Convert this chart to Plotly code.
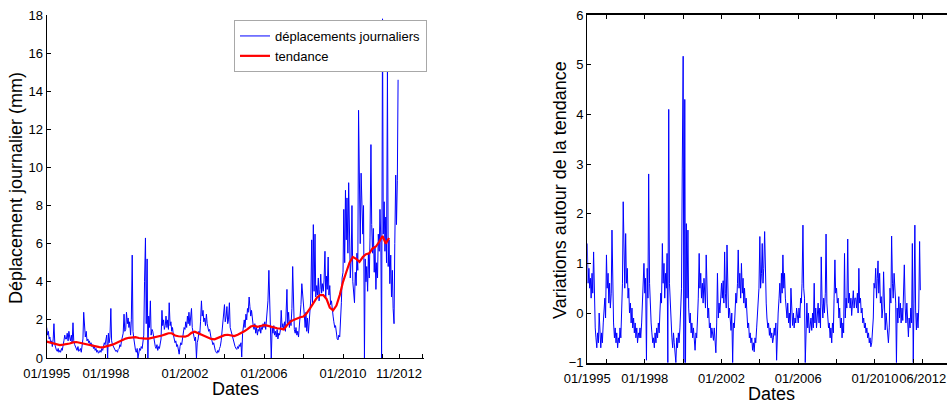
import pandas as pd
import plotly.graph_objects as go

# ---- daily displacement (mm), semi-monthly samples (1st & 15th) ----
d1995 = [1.6, 1.2, 1.4, 1.0, 1.1, 0.8, 0.9, 0.6, 1.0, 1.8, 0.7, 0.5, 0.4, 0.35, 0.5, 0.3, 0.4, 0.3, 0.5, 0.4, 0.6, 0.9, 1.2, 1.0]
d1996 = [1.0, 1.3, 0.9, 1.4, 1.1, 0.9, 1.2, 0.8, 1.85, 0.9, 0.7, 0.6, 0.5, 0.4, 0.6, 0.35, 0.4, 0.5, 0.3, 0.6, 1.0, 2.4, 1.3, 1.1]
d1997 = [1.4, 0.9, 1.0, 0.8, 0.9, 0.7, 0.8, 0.6, 0.7, 0.5, 0.6, 0.4, 0.5, 0.3, 0.4, 0.25, 0.3, 0.4, 0.3, 0.5, 0.4, 0.6, 0.8, 0.7]
d1998 = [0.9, 1.2, 0.0, 1.3, 0.8, 1.1, 2.6, 0.9, 0.7, 0.6, 0.5, 0.4, 0.35, 0.4, 0.3, 0.45, 0.5, 0.7, 0.6, 0.9, 1.1, 1.3, 2.3, 1.4]
d1999 = [1.5, 2.4, 1.8, 2.1, 1.6, 1.9, 1.2, 2.0, 5.4, 1.4, 1.0, 0.6, 0.4, 0.3, 0.5, 0.0, 0.3, 0.5, 0.4, 0.6, 0.5, 0.8, 1.2, 4.0]
d2000 = [6.3, 1.8, 5.2, 0.0, 2.2, 1.6, 3.0, 1.2, 1.5, 1.4, 1.0, 0.8, 0.6, 0.5, 0.7, 0.4, 0.6, 0.5, 0.8, 1.0, 2.5, 1.7, 2.0, 1.5]
d2001 = [1.7, 2.2, 1.6, 2.0, 1.5, 2.9, 1.7, 1.9, 1.4, 1.6, 1.2, 1.0, 0.8, 0.9, 0.6, 0.7, 0.5, 0.2, 0.6, 0.8, 0.7, 1.0, 1.3, 1.6]
d2002 = [1.5, 1.9, 1.6, 2.2, 1.8, 2.4, 1.7, 2.0, 2.6, 1.6, 1.3, 1.0, 0.9, 1.1, 0.0, 0.8, 1.0, 1.4, 1.2, 1.9, 3.0, 2.2, 2.5, 1.9]
d2003 = [2.1, 1.7, 2.3, 1.8, 1.6, 1.4, 1.5, 1.2, 1.0, 0.9, 0.7, 0.8, 0.5, 0.4, 0.3, 0.25, 0.4, 0.3, 0.5, 0.6, 0.9, 1.3, 1.7, 2.0]
d2004 = [2.8, 1.9, 2.2, 2.7, 1.8, 2.0, 2.9, 1.6, 1.4, 1.2, 1.0, 0.9, 0.7, 0.6, 0.5, 0.45, 0.6, 0.5, 0.7, 0.6, 0.8, 0.05, 1.3, 1.8]
d2005 = [2.0, 1.6, 2.3, 2.0, 2.6, 2.4, 3.2, 2.7, 2.2, 2.5, 1.9, 1.7, 1.5, 1.8, 1.3, 1.6, 1.2, 1.5, 1.4, 1.7, 1.3, 1.6, 1.5, 1.8]
d2006 = [1.6, 1.9, 1.5, 2.1, 2.6, 3.0, 4.6, 2.8, 2.2, 0.0, 1.6, 1.3, 1.7, 1.2, 1.4, 1.1, 1.5, 1.0, 1.3, 1.2, 1.5, 2.5, 1.6, 1.8]
d2007 = [1.5, 1.9, 1.4, 2.2, 3.6, 1.8, 2.4, 1.6, 2.0, 1.7, 2.6, 4.8, 1.9, 1.5, 1.3, 1.6, 1.2, 1.4, 1.1, 1.6, 2.2, 2.8, 3.9, 3.2]
d2008 = [2.8, 2.3, 1.6, 2.4, 1.4, 2.1, 1.3, 1.9, 2.6, 3.1, 6.2, 2.9, 7.0, 3.5, 6.5, 3.2, 3.8, 3.3, 4.2, 3.0, 3.6, 4.4, 3.4, 3.9]
d2009 = [3.5, 4.1, 5.6, 3.2, 4.3, 3.6, 5.3, 3.3, 3.8, 2.8, 3.0, 2.4, 2.2, 1.9, 1.6, 1.7, 1.2, 1.0, 0.95, 1.2, 1.1, 1.8, 2.9, 4.2]
d2010 = [4.5, 7.8, 5.0, 8.8, 6.2, 8.4, 5.5, 9.2, 6.0, 4.2, 5.2, 8.0, 4.0, 3.2, 2.9, 4.5, 3.8, 5.5, 4.6, 13.0, 7.5, 6.0, 9.7, 7.2]
d2011 = [6.5, 8.0, 0.0, 5.2, 4.0, 4.8, 3.5, 5.5, 4.2, 6.3, 11.2, 7.0, 5.5, 6.8, 4.5, 5.8, 3.6, 5.0, 4.2, 6.5, 5.6, 7.8, 6.2, 0.0]
d2012 = [17.8, 6.5, 8.2, 5.6, 7.4, 5.0, 15.1, 4.8, 6.2, 3.9, 5.4, 3.2, 4.6, 2.6, 1.8, 6.0, 9.6, 7.0, 9.3, 14.6]

# ---- trend (mm), bimonthly samples ----
trend_mm = [
    0.86, 0.82, 0.76, 0.70, 0.68, 0.70,
    0.72, 0.76, 0.82, 0.84, 0.80, 0.76,
    0.73, 0.68, 0.64, 0.60, 0.57, 0.56,
    0.60, 0.65, 0.70, 0.78, 0.86, 0.95,
    1.02, 1.06, 1.08, 1.09, 1.05, 1.02,
    1.02, 1.02, 1.05, 1.10, 1.14, 1.18,
    1.24, 1.30, 1.30, 1.18, 1.14, 1.12,
    1.12, 1.18, 1.32, 1.38, 1.30, 1.24,
    1.18, 1.08, 1.00, 0.98, 1.06, 1.14,
    1.20, 1.22, 1.18, 1.15, 1.22, 1.30,
    1.40, 1.52, 1.65, 1.70, 1.64, 1.68,
    1.72, 1.70, 1.64, 1.60, 1.56, 1.54,
    1.50, 1.72, 1.90, 2.00, 2.08, 2.14,
    2.18, 2.35, 2.60, 2.85, 3.15, 3.30,
    3.30, 3.10, 2.65, 2.50, 2.75, 3.30,
    4.00, 4.50, 5.00, 5.30, 5.20, 5.05,
    5.30, 5.45, 5.50, 5.75, 5.85, 6.10,
    6.40, 6.00, 6.30,
]

# ---- variations around the trend, semi-monthly samples ----
r1995 = [1.4, 0.6, 0.9, 0.5, 0.7, 0.3, 0.8, 0.4, 1.23, 0.2, -0.3, -0.5, -0.7, -0.4, -0.6, 0.0, -0.5, -0.7, -0.4, -0.6, -0.2, 0.1, 0.3, -0.1]
r1996 = [1.17, 0.5, 0.8, 0.2, 0.6, 0.1, 0.4, 1.67, 0.3, -0.2, -0.5, -0.3, -0.6, -0.4, -0.7, -0.5, -0.6, -0.3, -0.5, 0.2, 0.6, 2.24, 0.8, 0.5]
r1997 = [1.6, 0.6, 0.9, 0.3, 0.5, 0.0, 0.2, -0.2, 0.1, -0.3, -0.1, -0.4, -0.2, -0.5, -0.3, -0.6, -0.4, -0.5, -0.3, -0.5, -0.2, 0.2, 0.5, 1.0]
r1998 = [0.4, 0.7, -0.95, 0.9, 0.3, 2.8, 0.6, 0.1, -0.2, -0.4, -0.6, -0.5, -0.7, -0.4, -0.6, -0.3, -0.5, -0.2, -0.4, 0.0, 0.4, 0.2, 1.4, 0.6]
r1999 = [1.0, 0.3, 0.8, 0.5, 1.2, -1.0, 4.1, 0.6, 0.2, -0.3, -0.5, -0.7, -0.4, -0.6, -0.8, -1.0, -0.5, -0.7, -0.4, -0.6, -0.3, 0.0, 0.5, 2.9]
r2000 = [5.17, -1.0, 4.3, -1.0, 1.8, 0.3, 1.67, 0.1, -0.2, 0.0, -0.4, -0.2, -0.5, -0.3, -0.6, -0.75, -0.4, -0.5, -0.1, 0.3, 1.2, 0.5, 0.8, 0.3]
r2001 = [0.6, 0.2, 0.7, 0.4, 0.1, 1.17, 0.3, -0.1, 0.1, -0.3, -0.2, -0.5, -0.3, -0.4, -0.55, -0.3, -0.5, -0.8, -0.2, 0.8, -0.1, 0.2, 0.0, 0.4]
r2002 = [0.6, 0.3, 0.65, 0.2, 1.23, 0.4, 0.1, 1.37, 0.3, -0.1, 0.1, -0.2, -0.35, 0.0, -1.0, -0.2, -0.3, 0.0, 0.4, 0.2, 0.6, 1.27, 0.5, 0.8]
r2003 = [0.3, 1.0, 0.4, 0.7, 0.2, 0.5, 0.1, 0.3, -0.1, -0.3, -0.2, -0.5, -0.4, -0.6, -0.5, -0.75, -0.6, -0.78, -0.5, -0.6, -0.3, -0.1, 0.2, 0.5]
r2004 = [1.54, 0.5, 0.8, 1.4, 0.6, 0.9, 1.64, 0.5, 0.2, -0.1, -0.3, -0.2, -0.45, -0.3, -0.5, -0.4, -0.6, -0.5, -0.3, -0.45, -0.2, -0.95, -0.3, 0.0]
r2005 = [0.3, 0.6, 0.2, 0.8, 0.4, 1.17, 0.5, 0.8, 0.3, 0.1, -0.1, 0.2, -0.2, 0.0, -0.3, 0.5, -0.1, -0.25, 0.0, -0.3, -0.1, -0.2, 0.1, -0.1]
r2006 = [-0.2, 0.1, -0.1, 0.3, 0.2, 0.6, 1.77, 0.5, 0.3, -1.0, -0.1, 0.2, -0.3, 0.0, -0.4, -0.2, -0.1, -0.35, 0.0, -0.3, 0.6, -0.2, 0.1, -0.3]
r2007 = [-0.1, 0.2, -0.2, 0.1, -0.3, 1.13, 0.2, -0.1, 0.3, 0.0, 0.4, 1.59, 0.2, -0.1, -0.3, -0.2, -0.5, -0.3, -0.6, -0.2, -0.4, 0.3, 1.07, 0.4]
r2008 = [0.5, 0.2, 0.3, -0.1, 0.1, -0.3, -0.1, -0.5, -0.2, -0.4, 1.2, -0.1, 0.3, 0.1, 1.49, 0.2, 0.4, 0.1, 0.3, -0.05, 0.2, 0.45, 0.1, 0.3]
r2009 = [0.3, 0.1, 0.4, 0.0, 0.9, 0.2, 0.3, 0.0, 0.1, -0.2, -0.1, -0.3, -0.2, -0.4, -0.3, -0.5, -0.4, -0.6, -0.5, -0.68, -0.6, -0.4, -0.1, 0.6]
r2010 = [0.5, 0.9, 0.3, 0.7, 1.05, 0.4, 0.8, 0.2, 0.33, -0.1, 0.1, 0.83, -0.2, -0.34, 0.0, -0.2, -0.4, -0.6, -0.3, 0.5, 0.2, 1.55, 0.6, 0.3]
r2011 = [0.8, 0.4, 0.2, -1.0, 0.1, -0.2, 0.33, -0.1, 0.2, -0.2, 0.1, -0.15, 0.3, 0.97, 0.1, -0.2, 0.2, -0.3, -0.48, -0.1, -0.3, 0.1, -0.2, 1.4]
r2012 = [-1.0, 0.2, 1.77, 0.06, -0.34, 0.0, -0.3, 0.1, 1.44, 0.46]

# ---- tick labels ----
left_tick_dates = ["1995-01-01", "1996-01-01", "1998-01-01", "2000-01-01", "2002-01-01", "2004-01-01",
                   "2006-01-01", "2008-01-01", "2010-01-01", "2012-01-01", "2012-11-01", "2014-01-01"]
left_tick_text = ["01/1995", "", "01/1998", "", "01/2002", "", "01/2006", "", "01/2010", "", "11/2012", ""]
right_tick_dates = ["1995-01-01", "1996-01-01", "1998-01-01", "2000-01-01", "2002-01-01", "2004-01-01",
                    "2006-01-01", "2008-01-01", "2010-01-01", "2012-01-01", "2012-07-01"]
right_tick_text = ["01/1995", "", "01/1998", "", "01/2002", "", "01/2006", "", "01/2010", "", "06/2012"]

daily_mm = (d1995 + d1996 + d1997 + d1998 + d1999 + d2000 + d2001 + d2002 + d2003 + d2004 +
            d2005 + d2006 + d2007 + d2008 + d2009 + d2010 + d2011 + d2012)
variation = (r1995 + r1996 + r1997 + r1998 + r1999 + r2000 + r2001 + r2002 + r2003 + r2004 +
             r2005 + r2006 + r2007 + r2008 + r2009 + r2010 + r2011 + r2012)

daily_dates = pd.date_range("1995-01-01", periods=len(daily_mm), freq="SMS")
var_dates = pd.date_range("1995-01-01", periods=len(variation), freq="SMS")
trend_dates = pd.date_range("1995-01-01", periods=len(trend_mm), freq="2MS")

W, H = 947, 403
FONT = "Liberation Sans, Arial, Helvetica, sans-serif"
BLUE = "rgb(0,0,255)"

fig = go.Figure()
fig.add_trace(go.Scatter(x=daily_dates, y=daily_mm, mode="lines", name="déplacements journaliers",
                         line=dict(color=BLUE, width=1.0), xaxis="x", yaxis="y"))
fig.add_trace(go.Scatter(x=trend_dates, y=trend_mm, mode="lines", name="tendance",
                         line=dict(color="#ff0000", width=2.2), xaxis="x", yaxis="y"))
fig.add_trace(go.Scatter(x=var_dates, y=variation, mode="lines", showlegend=False,
                         line=dict(color=BLUE, width=1.0), xaxis="x2", yaxis="y2"))

def px_x(p):
    return p / W

def px_y(p):
    return 1 - p / H

axis_common = dict(showgrid=False, zeroline=False, showline=True, linecolor="black",
                   ticks="inside", ticklen=4, tickcolor="black", tickwidth=1,
                   automargin=False, tickangle=0,
                   tickfont=dict(family=FONT, size=13, color="black"))

fig.update_layout(
    width=W, height=H,
    margin=dict(l=0, r=0, t=0, b=0),
    paper_bgcolor="white", plot_bgcolor="white",
    font=dict(family=FONT, size=13, color="black"),
    xaxis=dict(domain=[px_x(46.7), px_x(424)], anchor="y", type="date",
               range=["1995-01-01", "2014-02-06"], tickvals=left_tick_dates, ticktext=left_tick_text,
               linewidth=1.3, ticklabelstandoff=3, **axis_common),
    yaxis=dict(domain=[px_y(358), px_y(15)], anchor="x", range=[0, 18],
               tickvals=list(range(0, 19, 2)), linewidth=1.3, **axis_common),
    xaxis2=dict(domain=[px_x(587.3), 1.0], anchor="y2", type="date",
                range=["1995-01-01", "2013-10-05"], tickvals=right_tick_dates, ticktext=right_tick_text,
                linewidth=2, mirror="ticks", ticklabelstandoff=3, **axis_common),
    yaxis2=dict(domain=[px_y(362.7), px_y(15)], anchor="x2", range=[-1, 6],
                tickvals=list(range(-1, 7)), linewidth=1.3, mirror=False, **axis_common),
    legend=dict(x=px_x(234), y=px_y(20), xanchor="left", yanchor="top",
                bgcolor="white", bordercolor="#a8a8a8", borderwidth=1,
                font=dict(family=FONT, size=13, color="black"), tracegroupgap=0),
    showlegend=True,
)

annots = [
    dict(text="Déplacement journalier (mm)", x=px_x(16), y=px_y(188), textangle=-90, size=18),
    dict(text="Dates", x=px_x(235), y=px_y(389), textangle=0, size=18),
    dict(text="Variations autour de la tendance", x=px_x(560), y=px_y(190), textangle=-90, size=18),
    dict(text="Dates", x=px_x(771), y=px_y(394), textangle=0, size=18),
]
for a in annots:
    fig.add_annotation(text=a["text"], x=a["x"], y=a["y"], xref="paper", yref="paper",
                       xanchor="center", yanchor="middle", showarrow=False, textangle=a["textangle"],
                       font=dict(family=FONT, size=a["size"], color="black"))

fig.write_html("out.html")
